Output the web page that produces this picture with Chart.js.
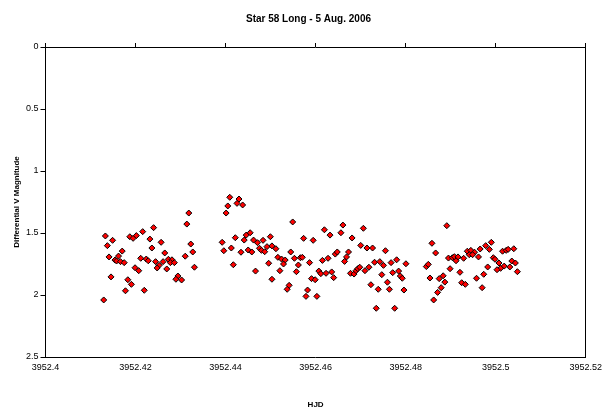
<!DOCTYPE html>
<html lang="en">
<head>
<meta charset="UTF-8">
<title>Star 58 Long - 5 Aug. 2006</title>
<script src="https://cdn.jsdelivr.net/npm/chart.js"></script>
<style>
    body { margin: 0; background: #fff; }
    #wrap { width: 607px; height: 416px; }
</style>
</head>
<body>
<div id="wrap"><canvas id="lightCurve" width="607" height="416"></canvas></div>
<script>
    // Heliocentric Julian Date of each observation
    const hjd = [
        3952.41330, 3952.41490, 3952.41374, 3952.41873, 3952.41946, 3952.42018, 3952.42159, 3952.42401,
        3952.42319, 3952.42568, 3952.42363, 3952.41704, 3952.42649, 3952.41411, 3952.41622, 3952.41543,
        3952.41578, 3952.41666, 3952.41748, 3952.42115, 3952.42238, 3952.42282, 3952.42445, 3952.42612,
        3952.42524, 3952.42480, 3952.42730, 3952.42809, 3952.42774, 3952.42862, 3952.41989, 3952.42071,
        3952.42693, 3952.41455, 3952.41829, 3952.41908, 3952.41776, 3952.42194, 3952.41293, 3952.42941,
        3952.42897, 3952.43023, 3952.43104,
        3952.44093, 3952.44298, 3952.44254, 3952.44049, 3952.44379, 3952.44012, 3952.43183, 3952.43139,
        3952.43227, 3952.43271, 3952.43308, 3952.43924, 3952.43961, 3952.44216, 3952.44128, 3952.44342,
        3952.44172, 3952.44458, 3952.44546, 3952.44414, 3952.44621, 3952.44709, 3952.44832, 3952.44995,
        3952.44502, 3952.44583, 3952.44753, 3952.44797, 3952.44869, 3952.44920, 3952.45030, 3952.44957,
        3952.44665, 3952.45030,
        3952.45491, 3952.45733, 3952.45946, 3952.46195, 3952.46320, 3952.46606, 3952.46562, 3952.46810,
        3952.47002, 3952.45118, 3952.45447, 3952.45162, 3952.45243, 3952.45324, 3952.45287, 3952.45529,
        3952.45661, 3952.45705, 3952.45617, 3952.45865, 3952.46151, 3952.46276, 3952.46437, 3952.46481,
        3952.46731, 3952.46687, 3952.46643, 3952.45206, 3952.45573, 3952.46072, 3952.46116, 3952.46232,
        3952.46357, 3952.46401, 3952.45909, 3952.45990, 3952.45412, 3952.45368, 3952.45821, 3952.45786,
        3952.46028, 3952.46775, 3952.46854, 3952.46898, 3952.46936, 3952.46980,
        3952.47061, 3952.47140, 3952.47265, 3952.47551, 3952.47096, 3952.47184, 3952.47309, 3952.47426,
        3952.47507, 3952.47676, 3952.47800, 3952.48006, 3952.47470, 3952.47712, 3952.47844, 3952.47881,
        3952.47925, 3952.47595, 3952.47228, 3952.47391, 3952.47639, 3952.47962, 3952.47347, 3952.47756,
        3952.48914, 3952.48584, 3952.48666, 3952.48951, 3952.48459, 3952.48503, 3952.48540, 3952.48745,
        3952.48833, 3952.48870, 3952.48987, 3952.48789, 3952.48710, 3952.48622,
        3952.49903, 3952.49778, 3952.49859, 3952.49655, 3952.49369, 3952.49448, 3952.49530, 3952.49413,
        3952.49486, 3952.49618, 3952.50152, 3952.50233, 3952.50277, 3952.50402, 3952.49039, 3952.49083,
        3952.49163, 3952.49119, 3952.49288, 3952.49947, 3952.49985, 3952.50073, 3952.50189, 3952.50108,
        3952.50029, 3952.50358, 3952.50437, 3952.50314, 3952.50482, 3952.49822, 3952.49206, 3952.49734,
        3952.49574, 3952.49244, 3952.49325, 3952.49699
    ];

    // Differential V magnitude for each observation (same order as hjd)
    const vmag = [
        1.524, 1.559, 1.602, 1.530, 1.543, 1.521, 1.489, 1.457,
        1.549, 1.575, 1.621, 1.646, 1.661, 1.693, 1.686, 1.718,
        1.726, 1.731, 1.739, 1.704, 1.710, 1.724, 1.731, 1.731,
        1.761, 1.782, 1.712, 1.716, 1.739, 1.739, 1.780, 1.804,
        1.790, 1.854, 1.877, 1.914, 1.966, 1.962, 2.040, 1.847,
        1.873, 1.879, 1.687,
        1.212, 1.226, 1.261, 1.282, 1.274, 1.339, 1.339, 1.428,
        1.589, 1.653, 1.776, 1.575, 1.643, 1.538, 1.621, 1.655,
        1.756, 1.517, 1.498, 1.557, 1.557, 1.578, 1.559, 1.530,
        1.637, 1.653, 1.623, 1.640, 1.651, 1.610, 1.604, 1.744,
        1.807, 1.873,
        1.411, 1.543, 1.559, 1.474, 1.517, 1.436, 1.498, 1.540,
        1.600, 1.627, 1.653, 1.696, 1.710, 1.718, 1.750, 1.704,
        1.699, 1.696, 1.758, 1.739, 1.721, 1.704, 1.670, 1.653,
        1.653, 1.693, 1.729, 1.804, 1.812, 1.807, 1.828, 1.825,
        1.814, 1.860, 1.868, 1.877, 1.922, 1.954, 1.960, 2.011,
        2.011, 1.825, 1.831, 1.804, 1.788, 1.776,
        1.462, 1.621, 1.621, 1.643, 1.804, 1.776, 1.736, 1.731,
        1.761, 1.739, 1.716, 1.748, 1.836, 1.820, 1.807, 1.847,
        1.865, 1.897, 1.917, 1.954, 1.954, 1.960, 2.107, 2.107,
        1.441, 1.583, 1.661, 1.702, 1.771, 1.753, 1.863, 1.868,
        1.845, 1.896, 1.788, 1.941, 1.979, 2.040,
        1.575, 1.602, 1.632, 1.629, 1.647, 1.640, 1.655, 1.675,
        1.675, 1.693, 1.647, 1.640, 1.632, 1.627, 1.699, 1.691,
        1.693, 1.724, 1.704, 1.699, 1.712, 1.742, 1.767, 1.785,
        1.796, 1.726, 1.742, 1.774, 1.812, 1.774, 1.817, 1.833,
        1.865, 1.901, 1.914, 1.941
    ];

    const xTicks = [3952.4, 3952.42, 3952.44, 3952.46, 3952.48, 3952.5, 3952.52];
    const yTicks = [0, 0.5, 1, 1.5, 2, 2.5];

    const points = hjd.map((x, i) => ({ x: x, y: vmag[i] }));
    const family = "'Liberation Sans', Arial, sans-serif";

    // put ticks exactly where the original axis has them
    function fixedTicks(list) {
        return scale => { scale.ticks = list.map(v => ({ value: v })); };
    }

    const ctx = document.getElementById('lightCurve').getContext('2d');
    new Chart(ctx, {
        type: 'scatter',
        data: {
            datasets: [{
                label: 'Star 58',
                data: points,
                pointStyle: 'rectRot',
                pointRadius: 3,
                pointHoverRadius: 3,
                backgroundColor: '#ff0000',
                borderColor: '#000000',
                borderWidth: 1
            }]
        },
        options: {
            responsive: false,
            animation: false,
            devicePixelRatio: 1,
            layout: { padding: { left: 10, right: 0, top: 0, bottom: 0 } },
            plugins: {
                legend: { display: false },
                tooltip: { enabled: false },
                title: {
                    display: true,
                    text: 'Star 58 Long - 5 Aug. 2006',
                    color: '#000',
                    font: { family: family, size: 10, weight: 'bold' },
                    padding: { top: 13, bottom: 0 }
                }
            },
            scales: {
                x: {
                    type: 'linear',
                    position: 'bottom',
                    min: 3952.4,
                    max: 3952.52,
                    afterBuildTicks: fixedTicks(xTicks),
                    afterFit: s => { s.height = 59; },
                    grid: { display: false, drawTicks: false, tickLength: 0 },
                    border: { display: true, color: '#000', width: 1 },
                    ticks: {
                        color: '#000',
                        font: { family: family, size: 9 },
                        padding: 5,
                        maxRotation: 0,
                        autoSkip: false,
                        callback: v => String(v)
                    },
                    title: {
                        display: true,
                        text: 'HJD',
                        color: '#000',
                        font: { family: family, size: 8, weight: 'bold' },
                        padding: { top: 0, bottom: 6 }
                    }
                },
                xTop: {
                    type: 'linear',
                    position: 'top',
                    min: 3952.4,
                    max: 3952.52,
                    afterBuildTicks: fixedTicks(xTicks),
                    afterFit: s => { s.height = 22; },
                    grid: { drawOnChartArea: false, drawTicks: true, tickLength: 4, color: '#000' },
                    border: { display: true, color: '#000', width: 1 },
                    ticks: { display: false }
                },
                y: {
                    type: 'linear',
                    position: 'left',
                    reverse: true,
                    min: 0,
                    max: 2.5,
                    afterBuildTicks: fixedTicks(yTicks),
                    afterFit: s => { s.width = 35.5; },
                    grid: { drawOnChartArea: false, drawTicks: true, tickLength: 5, color: '#000' },
                    border: { display: true, color: '#000', width: 1 },
                    ticks: {
                        color: '#000',
                        font: { family: family, size: 9 },
                        padding: 2,
                        callback: v => String(v)
                    },
                    title: {
                        display: true,
                        text: 'Differential V Magnitude',
                        color: '#000',
                        font: { family: family, size: 8, weight: 'bold' },
                        padding: { top: 2, bottom: 0 }
                    }
                },
                yRight: {
                    type: 'linear',
                    position: 'right',
                    reverse: true,
                    min: 0,
                    max: 2.5,
                    afterFit: s => { s.width = 15.6; },
                    grid: { display: false },
                    border: { display: true, color: '#000', width: 1 },
                    ticks: { display: false }
                }
            }
        }
    });
</script>
</body>
</html>
